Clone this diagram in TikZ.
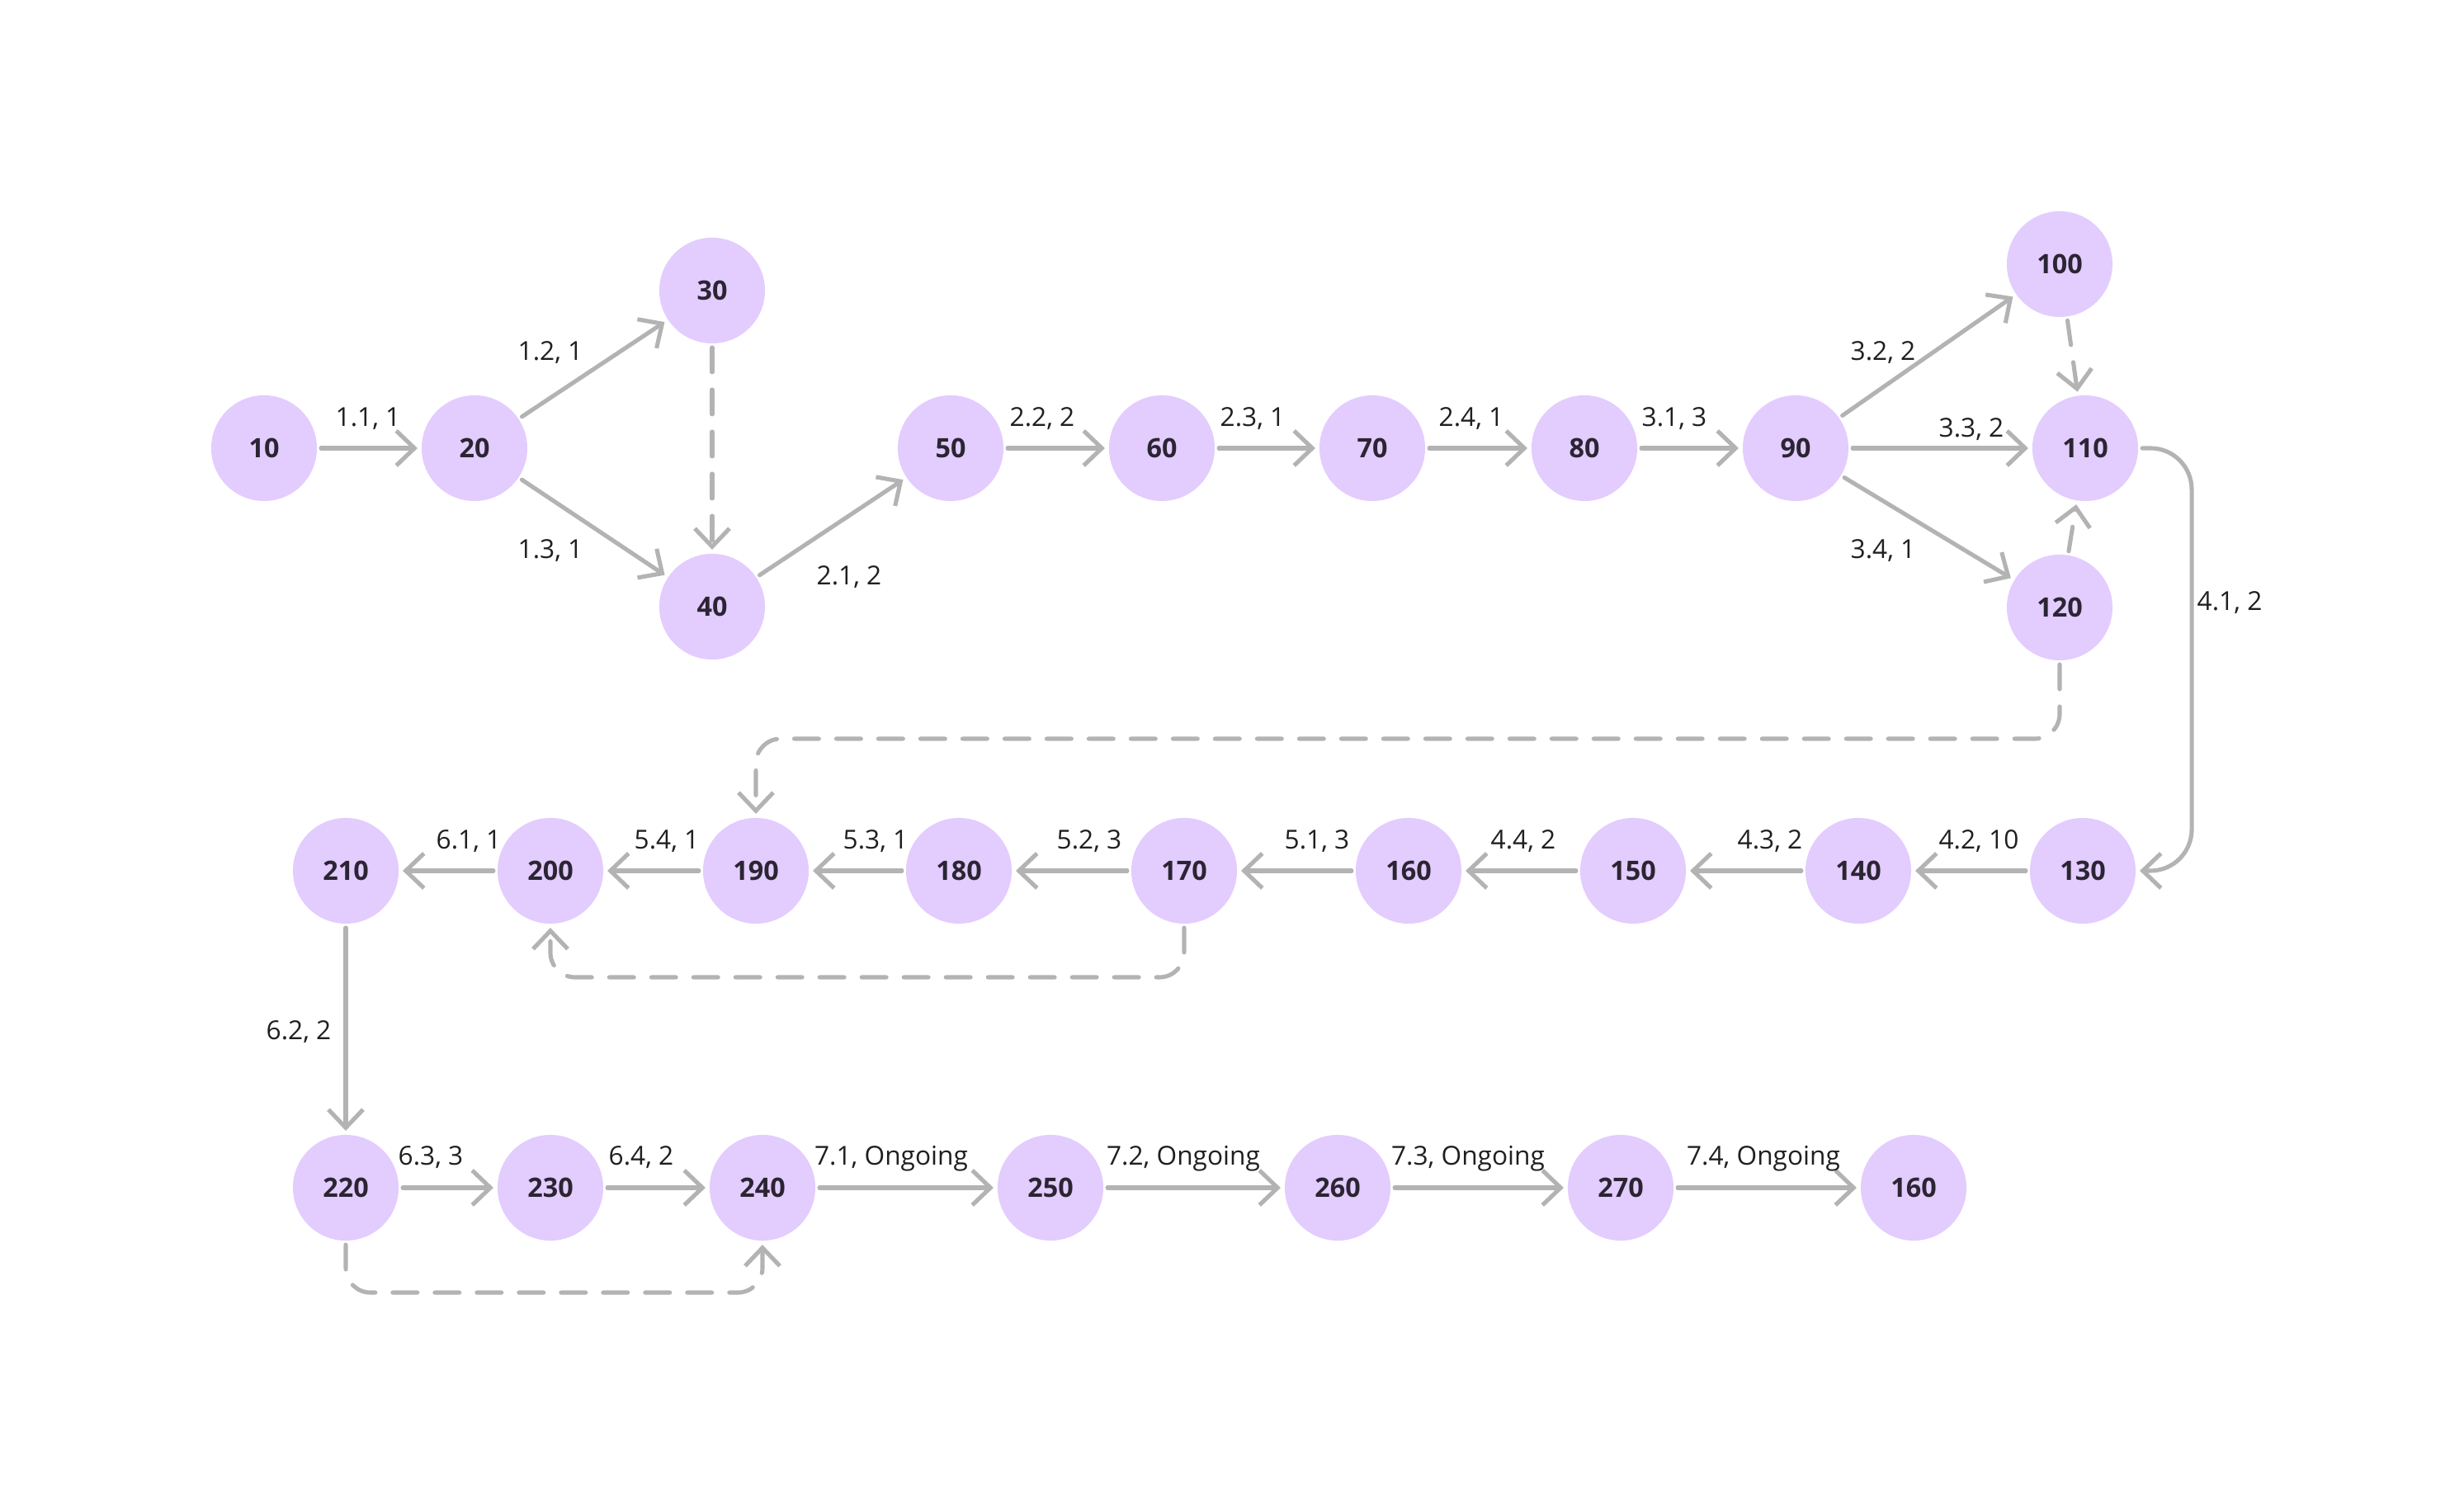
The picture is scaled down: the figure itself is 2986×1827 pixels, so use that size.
\documentclass[tikz,border=0pt]{standalone}
\usepackage{fontspec}
\setmainfont{Open Sans}
\usetikzlibrary{arrows.meta}
\definecolor{taskfill}{HTML}{E3CCFE}
\definecolor{tasktext}{HTML}{2B2533}
\definecolor{linkgray}{HTML}{B3B3B3}
\tikzset{
	task/.style={circle,fill=taskfill,draw=none,minimum size=1.28cm,inner sep=0pt,outer sep=0.05cm,
		text=tasktext,font=\fontsize{9.2}{11}\selectfont\bfseries},
	lbl/.style={inner sep=0pt,text height=6.6pt,text depth=0pt,text=black!88,font=\fontsize{9}{11}\selectfont},
	link/.style={draw=linkgray,line width=1.45pt,line cap=round,-{Straight Barb[length=0.22cm,width=0.42cm]}},
	dummy/.style={link,dash pattern=on 8.5pt off 6pt,rounded corners=0.3cm}
}

\begin{document}
\begin{tikzpicture}[x=0.01cm,y=0.01cm]
\useasboundingbox (0,0) rectangle (2986,1827);
%tasks
\foreach \n/\x/\y in {10/320/1284,20/575/1284,30/863/1475,40/863/1092,50/1152/1284,60/1408/1284,
	70/1663/1284,80/1920/1284,90/2176/1284,100/2496/1507,110/2527/1284,120/2496/1091,
	130/2524/772,140/2252/772,150/1979/772,160/1707/772,170/1435/772,180/1162/772,190/916/772,
	200/667/772,210/419/772,220/419/388,230/667/388,240/924/388,250/1273/388,260/1621/388,270/1964/388}
	\node[task] (n\n) at (\x,\y) {\n};
\node[task] (n160b) at (2319,388) {160};

%links
\foreach \a/\b in {10/20,20/30,20/40,40/50,50/60,60/70,70/80,80/90,90/100,90/110,90/120,
	130/140,140/150,150/160,160/170,170/180,180/190,190/200,200/210,210/220,
	220/230,230/240,240/250,250/260,260/270}
	\draw[link] (n\a) -- (n\b);
\draw[link] (n270) -- (n160b);
\draw[link,rounded corners=0.5cm] (n110.east) -- ++(60,0) |- (n130.east);

%dummies
\draw[dummy] (n30) -- (n40);
\draw[dummy] (n100) -- (n110);
\draw[dummy] (n120) -- (n110);
\draw[dummy] (n120.south) -- ++(0,-90) -| (n190.north);
\draw[dummy] (n170.south) -- ++(0,-60) -| (n200.south);
\draw[dummy] (n220.south) -- ++(0,-58) -| (n240.south);

%labels
\foreach \x/\y/\t [count=\i] in {446/1322/{1.1, 1},667/1402/{1.2, 1},667/1162/{1.3, 1},1029/1130/{2.1, 2},
	1263/1322/{2.2, 2},1518/1322/{2.3, 1},1783/1322/{2.4, 1},2029/1322/{3.1, 3},
	2282/1402/{3.2, 2},2389/1309/{3.3, 2},2282/1162/{3.4, 1},
	2398/810/{4.2, 10},2145/810/{4.3, 2},1846/810/{4.4, 2},1596/810/{5.1, 3},1320/810/{5.2, 3},
	1061/810/{5.3, 1},808/810/{5.4, 1},568/810/{6.1, 1},362/579/{6.2, 2},
	522/427/{6.3, 3},777/427/{6.4, 2},1080/427/{7.1, Ongoing},1434/427/{7.2, Ongoing},
	1779/427/{7.3, Ongoing},2137/427/{7.4, Ongoing}}
	\node[lbl] (l\i) at (\x,\y) {\t};
\node[lbl,anchor=west] (l41) at (2662,1099) {4.1, 2};
\end{tikzpicture}
\end{document}
